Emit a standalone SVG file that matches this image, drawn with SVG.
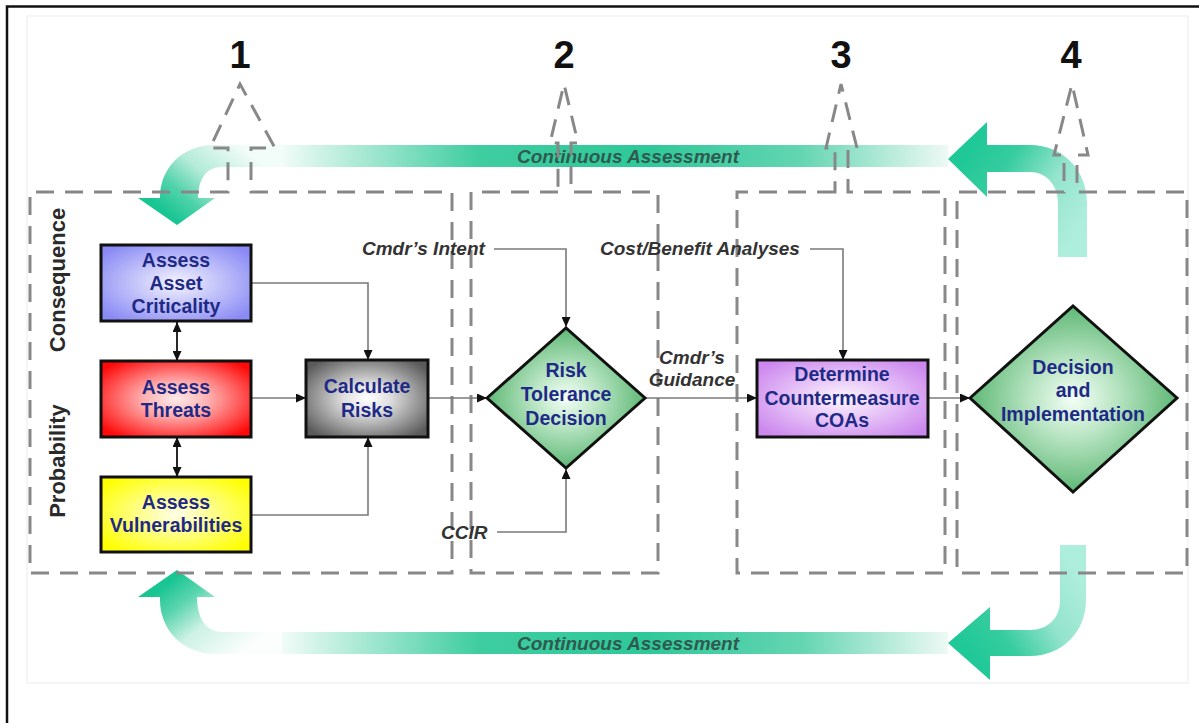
<svg xmlns="http://www.w3.org/2000/svg" width="1199" height="723" viewBox="0 0 1199 723">
<style>
  text { font-family: "Liberation Sans", Arial, sans-serif; }
  .num { font-size: 38px; font-weight: bold; fill: #111; text-anchor: middle; }
  .node { font-size: 19.5px; font-weight: bold; fill: #1f2a86; text-anchor: middle; }
  .lbl { font-size: 19px; font-weight: bold; font-style: italic; fill: #333; }
  .ca { font-size: 19px; font-weight: bold; font-style: italic; fill: #2f5a50; text-anchor: middle; }
  .side { font-size: 22px; font-weight: bold; fill: #2a2a2a; text-anchor: middle; }
  .dash { fill: none; stroke: #888; stroke-width: 3; stroke-dasharray: 18 11; }
  .box { stroke: #111; stroke-width: 3; }
  .conn { fill: none; stroke: #7a7a7a; stroke-width: 1.6; }
  .dbl { fill: none; stroke: #111; stroke-width: 1.8; }
</style>
<defs>
  <marker id="ah" markerUnits="userSpaceOnUse" markerWidth="10" markerHeight="9" refX="10" refY="4.5" orient="auto-start-reverse" viewBox="0 0 10 9">
    <path d="M0,0 L10,4.5 L0,9 Z" fill="#111"/>
  </marker>
  <radialGradient id="gBlue" cx="50%" cy="50%" r="62%"><stop offset="0" stop-color="#f4f4ff"/><stop offset="1" stop-color="#8a8af5"/></radialGradient>
  <radialGradient id="gRed" cx="50%" cy="50%" r="62%"><stop offset="0" stop-color="#ffeaea"/><stop offset="0.35" stop-color="#ffb0b0"/><stop offset="1" stop-color="#ff0a0a"/></radialGradient>
  <radialGradient id="gYel" cx="50%" cy="50%" r="62%"><stop offset="0" stop-color="#ffffe8"/><stop offset="1" stop-color="#ffff00"/></radialGradient>
  <radialGradient id="gGray" cx="50%" cy="50%" r="62%"><stop offset="0" stop-color="#ffffff"/><stop offset="0.3" stop-color="#e0e0e0"/><stop offset="1" stop-color="#5a5a5a"/></radialGradient>
  <radialGradient id="gPur" cx="50%" cy="50%" r="62%"><stop offset="0" stop-color="#fdf6ff"/><stop offset="1" stop-color="#cc88ee"/></radialGradient>
  <radialGradient id="gGrn" cx="50%" cy="50%" r="55%"><stop offset="0" stop-color="#f4fff6"/><stop offset="0.4" stop-color="#b5e3c0"/><stop offset="1" stop-color="#4fb068"/></radialGradient>
  <linearGradient id="gBand" gradientUnits="userSpaceOnUse" x1="277" y1="0" x2="948" y2="0">
    <stop offset="0" stop-color="#f6fdfa"/><stop offset="0.3" stop-color="#3fcda0"/><stop offset="0.55" stop-color="#2ec899"/><stop offset="0.78" stop-color="#63d5b1"/><stop offset="1" stop-color="#eef9f5"/>
  </linearGradient>
  <linearGradient id="gTL" gradientUnits="userSpaceOnUse" x1="240" y1="145" x2="177" y2="222">
    <stop offset="0" stop-color="#f2fcf8"/><stop offset="0.45" stop-color="#b4ebd9"/><stop offset="0.75" stop-color="#4fd2a9"/><stop offset="1" stop-color="#18c593"/>
  </linearGradient>
  <linearGradient id="gBL" gradientUnits="userSpaceOnUse" x1="240" y1="654" x2="177" y2="575">
    <stop offset="0" stop-color="#fbfefd"/><stop offset="0.45" stop-color="#cdf2e5"/><stop offset="0.75" stop-color="#5ad5ae"/><stop offset="1" stop-color="#18c593"/>
  </linearGradient>
  <linearGradient id="gTR" gradientUnits="userSpaceOnUse" x1="960" y1="160" x2="1075" y2="235">
    <stop offset="0" stop-color="#1ec897"/><stop offset="0.3" stop-color="#36cc9f"/><stop offset="0.65" stop-color="#94e4cc"/><stop offset="1" stop-color="#aeeedc"/>
  </linearGradient>
  <linearGradient id="gBR" gradientUnits="userSpaceOnUse" x1="960" y1="643" x2="1075" y2="570">
    <stop offset="0" stop-color="#1ec897"/><stop offset="0.3" stop-color="#36cc9f"/><stop offset="0.65" stop-color="#94e4cc"/><stop offset="1" stop-color="#aeeedc"/>
  </linearGradient>
</defs>

<rect x="0" y="0" width="1199" height="723" fill="#fff"/>
<g id="frame">
  <path d="M7,730 L7,6.5 L1205,6.5" fill="none" stroke="#111" stroke-width="2.5"/>
  <rect x="27" y="16" width="1161" height="667" fill="none" stroke="#ececec" stroke-width="1"/>
</g>

<g id="continuous-assessment-top">
  <rect x="277" y="145" width="671" height="22" fill="url(#gBand)"/>
  <path d="M282,145 L215,145 C182,145 160,168 160,198 L138,198 L177,225 L215,198 L198,198 C198,180 206,167 222,167 L282,167 Z" fill="url(#gTL)"/>
  <path d="M948,159 L987,122 L987,145 L1030,145 C1063,145 1087,170 1087,203 L1087,257 L1058,257 L1058,203 C1058,185 1046,172 1030,172 L987,172 L987,197 Z" fill="url(#gTR)"/>
  <text class="ca" x="628" y="163">Continuous Assessment</text>
</g>

<g id="continuous-assessment-bottom">
  <rect x="277" y="632" width="671" height="22" fill="url(#gBand)"/>
  <path d="M282,654 L215,654 C183,654 160,630 160,600 L160,597 L138,597 L177,570 L215,597 L197,597 C197,618 206,632 222,632 L282,632 Z" fill="url(#gBL)"/>
  <path d="M948,643 L990,607 L990,630 L1030,630 C1048,630 1060,618 1060,600 L1060,545 L1086,545 L1086,600 C1086,632 1062,656 1030,656 L990,656 L990,680 Z" fill="url(#gBR)"/>
  <text class="ca" x="628" y="650">Continuous Assessment</text>
</g>

<g id="step1">
  <path class="dash" d="M228,192 L30,192 L30,573 L452,573 L452,192 L251,192 L251,148 L275,148 L240,84 L210,148 L228,148 Z"/>
  <text class="num" x="240" y="68">1</text>
</g>
<g id="step2">
  <path class="dash" d="M558,192 L471,192 L471,573 L658,573 L658,192 L571,192 L571,143 L578,143 L564,84 L550,143 L558,143 Z"/>
  <text class="num" x="564" y="68">2</text>
</g>
<g id="step3">
  <path class="dash" d="M835,192 L737,192 L737,573 L945,573 L945,192 L848,192 L848,148 L857,148 L841,84 L826,148 L835,148 Z"/>
  <text class="num" x="841" y="68">3</text>
</g>
<g id="step4">
  <path class="dash" d="M1064,192 L957,192 L957,573 L1187,573 L1187,192 L1077,192 L1077,155 L1088,155 L1072,84 L1054,155 L1064,155 Z"/>
  <text class="num" x="1071" y="68">4</text>
</g>

<g id="side-labels">
  <text class="side" transform="translate(65,280) rotate(-90)">Consequence</text>
  <text class="side" transform="translate(65,461) rotate(-90)">Probability</text>
</g>

<g id="connectors">
  <path class="conn" d="M252,283 H368 V360" marker-end="url(#ah)"/>
  <path class="conn" d="M252,398 H306" marker-end="url(#ah)"/>
  <path class="conn" d="M252,515 H368 V437" marker-end="url(#ah)"/>
  <path class="dbl" d="M177,322 V361" marker-start="url(#ah)" marker-end="url(#ah)"/>
  <path class="dbl" d="M177,437 V477" marker-start="url(#ah)" marker-end="url(#ah)"/>
  <path class="conn" d="M428,398 H487" marker-end="url(#ah)"/>
  <path class="conn" d="M494,249 H566 V327" marker-end="url(#ah)"/>
  <path class="conn" d="M497,532 H566 V469" marker-end="url(#ah)"/>
  <path class="conn" d="M645,398 H757" marker-end="url(#ah)"/>
  <path class="conn" d="M810,249 H843 V360" marker-end="url(#ah)"/>
  <path class="conn" d="M928,398 H970" marker-end="url(#ah)"/>
</g>

<g id="label-cmdrs-intent"><text class="lbl" x="362" y="255">Cmdr’s Intent</text></g>
<g id="label-ccir"><text class="lbl" x="441" y="539">CCIR</text></g>
<g id="label-cost-benefit"><text class="lbl" x="600" y="255">Cost/Benefit Analyses</text></g>
<g id="label-cmdrs-guidance">
  <text class="lbl" x="692" y="364" text-anchor="middle">Cmdr’s</text>
  <text class="lbl" x="692" y="386" text-anchor="middle">Guidance</text>
</g>

<g id="assess-asset-criticality">
  <rect class="box" x="101" y="245" width="150" height="76" fill="url(#gBlue)"/>
  <text class="node" x="176" y="267">Assess</text>
  <text class="node" x="176" y="290">Asset</text>
  <text class="node" x="176" y="313">Criticality</text>
</g>
<g id="assess-threats">
  <rect class="box" x="101" y="361" width="150" height="76" fill="url(#gRed)"/>
  <text class="node" x="176" y="394">Assess</text>
  <text class="node" x="176" y="417">Threats</text>
</g>
<g id="assess-vulnerabilities">
  <rect class="box" x="101" y="477" width="150" height="75" fill="url(#gYel)"/>
  <text class="node" x="176" y="509">Assess</text>
  <text class="node" x="176" y="532">Vulnerabilities</text>
</g>
<g id="calculate-risks">
  <rect class="box" x="306" y="360" width="122" height="77" fill="url(#gGray)"/>
  <text class="node" x="367" y="393">Calculate</text>
  <text class="node" x="367" y="417">Risks</text>
</g>
<g id="risk-tolerance-decision">
  <polygon class="box" points="487,398 566,328 645,398 566,468" fill="url(#gGrn)"/>
  <text class="node" x="566" y="377">Risk</text>
  <text class="node" x="566" y="401">Tolerance</text>
  <text class="node" x="566" y="425">Decision</text>
</g>
<g id="determine-countermeasure-coas">
  <rect class="box" x="757" y="360" width="171" height="77" fill="url(#gPur)"/>
  <text class="node" x="842" y="381">Determine</text>
  <text class="node" x="842" y="405">Countermeasure</text>
  <text class="node" x="842" y="427">COAs</text>
</g>
<g id="decision-and-implementation">
  <polygon class="box" points="970,398 1073,306 1177,398 1073,492" fill="url(#gGrn)"/>
  <text class="node" x="1073" y="374">Decision</text>
  <text class="node" x="1073" y="397">and</text>
  <text class="node" x="1073" y="421">Implementation</text>
</g>
</svg>
